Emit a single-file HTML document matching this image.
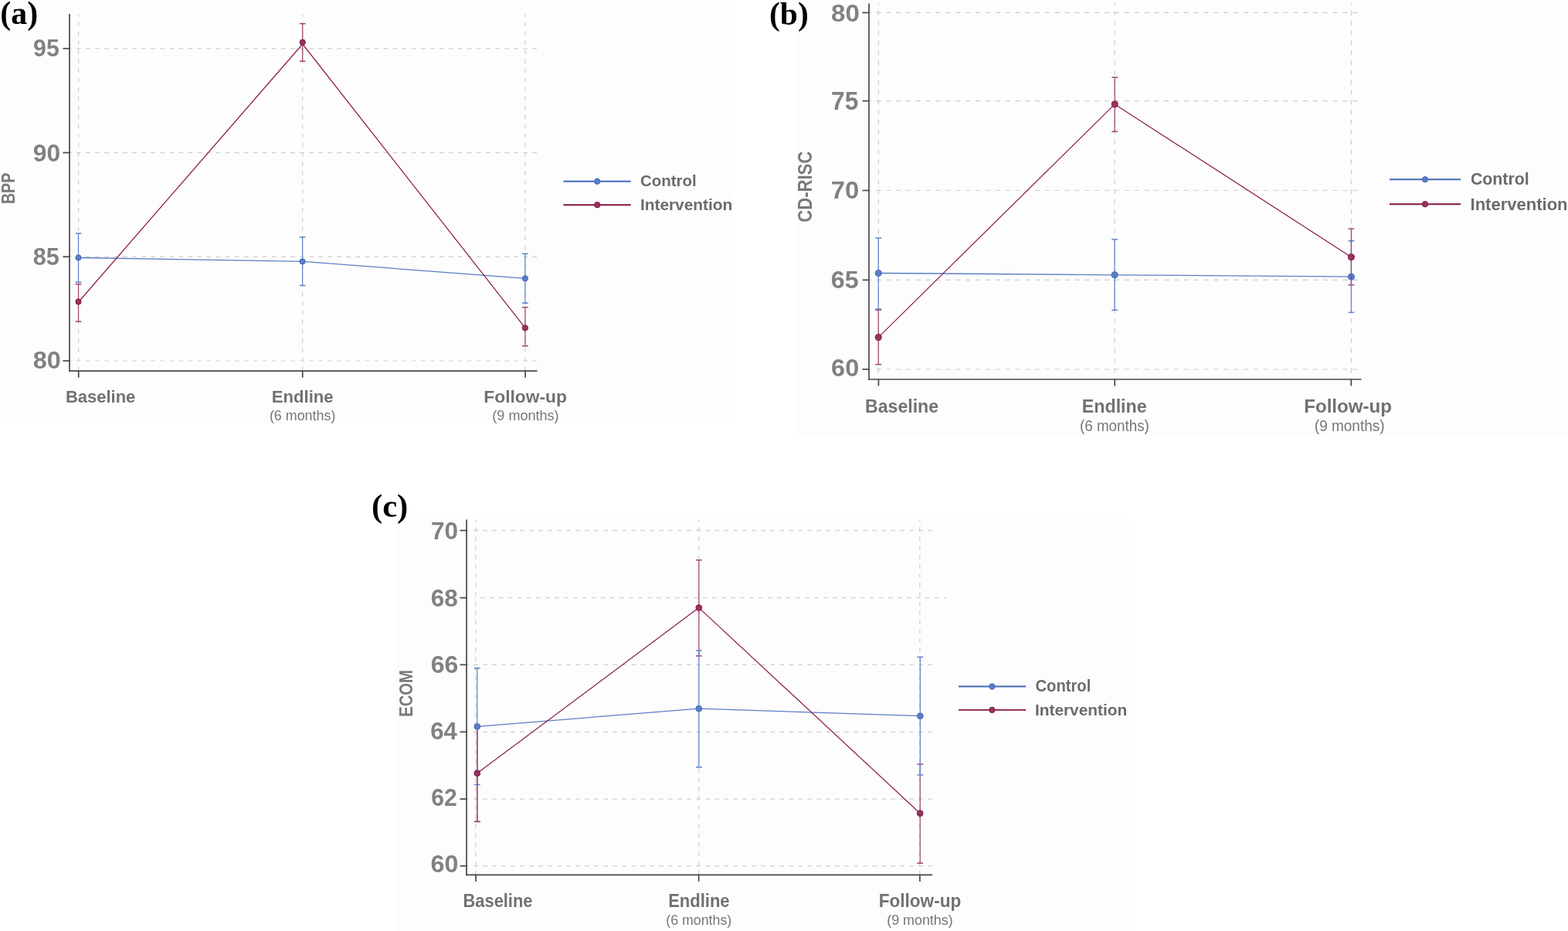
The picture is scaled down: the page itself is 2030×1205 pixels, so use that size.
<!DOCTYPE html>
<html><head><meta charset="utf-8"><title>Figure: BPP, CD-RISC and ECOM by group over time</title>
<style>html,body{margin:0;padding:0;background:#fff;overflow:hidden;}svg{display:block;}</style>
</head><body>
<svg width="2030" height="1205" viewBox="0 0 2030 1205">
<rect x="0" y="0" width="2030" height="1205" fill="#ffffff"/>
<rect x="0" y="0" width="950" height="548" fill="#fdfdfd"/>
<line x1="90" y1="62.8" x2="695.5" y2="62.8" stroke="#cecece" stroke-width="1.2" stroke-dasharray="5.6 6.45" stroke-dashoffset="3.1"/>
<line x1="90" y1="197.6" x2="695.5" y2="197.6" stroke="#cecece" stroke-width="1.2" stroke-dasharray="5.6 6.45" stroke-dashoffset="3.1"/>
<line x1="90" y1="332.3" x2="695.5" y2="332.3" stroke="#cecece" stroke-width="1.2" stroke-dasharray="5.6 6.45" stroke-dashoffset="3.1"/>
<line x1="90" y1="467.0" x2="695.5" y2="467.0" stroke="#cecece" stroke-width="1.2" stroke-dasharray="5.6 6.45" stroke-dashoffset="3.1"/>
<line x1="101.6" y1="18.7" x2="101.6" y2="480.2" stroke="#cecece" stroke-width="1.2" stroke-dasharray="5.6 6.45" stroke-dashoffset="2.4"/>
<line x1="391.7" y1="18.7" x2="391.7" y2="480.2" stroke="#cecece" stroke-width="1.2" stroke-dasharray="5.6 6.45" stroke-dashoffset="2.4"/>
<line x1="680.0" y1="18.7" x2="680.0" y2="480.2" stroke="#cecece" stroke-width="1.2" stroke-dasharray="5.6 6.45" stroke-dashoffset="2.4"/>
<line x1="90" y1="18" x2="90" y2="481.05" stroke="#474747" stroke-width="1.7"/>
<line x1="89.15" y1="480.2" x2="695.5" y2="480.2" stroke="#474747" stroke-width="1.7"/>
<line x1="81.5" y1="62.8" x2="90" y2="62.8" stroke="#474747" stroke-width="1.7"/>
<line x1="81.5" y1="197.6" x2="90" y2="197.6" stroke="#474747" stroke-width="1.7"/>
<line x1="81.5" y1="332.3" x2="90" y2="332.3" stroke="#474747" stroke-width="1.7"/>
<line x1="81.5" y1="467.0" x2="90" y2="467.0" stroke="#474747" stroke-width="1.7"/>
<line x1="101.7" y1="480.2" x2="101.7" y2="488.7" stroke="#474747" stroke-width="1.7"/>
<line x1="391.7" y1="480.2" x2="391.7" y2="488.7" stroke="#474747" stroke-width="1.7"/>
<line x1="680.1" y1="480.2" x2="680.1" y2="488.7" stroke="#474747" stroke-width="1.7"/>
<text x="43.08" y="72.83" font-size="30.56" font-weight="bold" font-family="'Liberation Sans', Arial, sans-serif" fill="#818181" textLength="33.72" lengthAdjust="spacingAndGlyphs">95</text>
<text x="42.77" y="208.66" font-size="31.41" font-weight="bold" font-family="'Liberation Sans', Arial, sans-serif" fill="#818181" textLength="35.38" lengthAdjust="spacingAndGlyphs">90</text>
<text x="42.68" y="342.93" font-size="30.81" font-weight="bold" font-family="'Liberation Sans', Arial, sans-serif" fill="#818181" textLength="34.15" lengthAdjust="spacingAndGlyphs">85</text>
<text x="42.65" y="476.55" font-size="30.77" font-weight="bold" font-family="'Liberation Sans', Arial, sans-serif" fill="#818181" textLength="36.19" lengthAdjust="spacingAndGlyphs">80</text>
<text x="84.88" y="520.8" font-size="22.82" font-weight="bold" font-family="'Liberation Sans', Arial, sans-serif" fill="#717171" textLength="90.46" lengthAdjust="spacingAndGlyphs">Baseline</text>
<text x="351.84" y="521.0" font-size="22.35" font-weight="bold" font-family="'Liberation Sans', Arial, sans-serif" fill="#717171" textLength="79.74" lengthAdjust="spacingAndGlyphs">Endline</text>
<text x="626.37" y="521.4" font-size="22.47" font-weight="bold" font-family="'Liberation Sans', Arial, sans-serif" fill="#717171" textLength="107.48" lengthAdjust="spacingAndGlyphs">Follow-up</text>
<text x="348.92" y="543.55" font-size="18.5" font-weight="normal" font-family="'Liberation Sans', Arial, sans-serif" fill="#767676" textLength="85.47" lengthAdjust="spacingAndGlyphs">(6 months)</text>
<text x="637.39" y="543.86" font-size="17.84" font-weight="normal" font-family="'Liberation Sans', Arial, sans-serif" fill="#767676" textLength="86.11" lengthAdjust="spacingAndGlyphs">(9 months)</text>
<text x="19.4" y="264.11" font-size="24.02" font-weight="bold" font-family="'Liberation Sans', Arial, sans-serif" fill="#7a7a7a" textLength="40.38" lengthAdjust="spacingAndGlyphs" transform="rotate(-90 19.4 264.11)">BPP</text>
<line x1="101.5" y1="302.1" x2="101.5" y2="365.2" stroke="#5e83ca" stroke-width="1.25"/>
<line x1="97.6" y1="302.1" x2="105.4" y2="302.1" stroke="#5e83ca" stroke-width="1.5"/>
<line x1="97.6" y1="365.2" x2="105.4" y2="365.2" stroke="#5e83ca" stroke-width="1.5"/>
<line x1="391.6" y1="307.0" x2="391.6" y2="369.5" stroke="#5e83ca" stroke-width="1.25"/>
<line x1="387.70000000000005" y1="307.0" x2="395.5" y2="307.0" stroke="#5e83ca" stroke-width="1.5"/>
<line x1="387.70000000000005" y1="369.5" x2="395.5" y2="369.5" stroke="#5e83ca" stroke-width="1.5"/>
<line x1="679.9" y1="328.4" x2="679.9" y2="392.3" stroke="#5e83ca" stroke-width="1.25"/>
<line x1="676.0" y1="328.4" x2="683.8" y2="328.4" stroke="#5e83ca" stroke-width="1.5"/>
<line x1="676.0" y1="392.3" x2="683.8" y2="392.3" stroke="#5e83ca" stroke-width="1.5"/>
<path d="M101.5 333.5 L391.6 338.4 L679.9 360.4" fill="none" stroke="#5b7fc6" stroke-width="1.3" stroke-linejoin="round"/>
<circle cx="101.5" cy="333.5" r="3.65" fill="#5a7ec6" stroke="#3e63b3" stroke-width="0.9"/>
<circle cx="391.6" cy="338.4" r="3.65" fill="#5a7ec6" stroke="#3e63b3" stroke-width="0.9"/>
<circle cx="679.9" cy="360.4" r="3.65" fill="#5a7ec6" stroke="#3e63b3" stroke-width="0.9"/>
<line x1="101.5" y1="367.8" x2="101.5" y2="416.2" stroke="#9c4670" stroke-width="1.25"/>
<line x1="97.6" y1="367.8" x2="105.4" y2="367.8" stroke="#9c4670" stroke-width="1.5"/>
<line x1="97.6" y1="416.2" x2="105.4" y2="416.2" stroke="#9c4670" stroke-width="1.5"/>
<line x1="391.7" y1="30.6" x2="391.7" y2="79.3" stroke="#9c4670" stroke-width="1.25"/>
<line x1="387.8" y1="30.6" x2="395.59999999999997" y2="30.6" stroke="#9c4670" stroke-width="1.5"/>
<line x1="387.8" y1="79.3" x2="395.59999999999997" y2="79.3" stroke="#9c4670" stroke-width="1.5"/>
<line x1="679.9" y1="397.7" x2="679.9" y2="447.8" stroke="#9c4670" stroke-width="1.25"/>
<line x1="676.0" y1="397.7" x2="683.8" y2="397.7" stroke="#9c4670" stroke-width="1.5"/>
<line x1="676.0" y1="447.8" x2="683.8" y2="447.8" stroke="#9c4670" stroke-width="1.5"/>
<path d="M101.5 391.0 L391.7 57.0 L679.9 424.4" fill="none" stroke="#8b1e4d" stroke-width="1.25" stroke-linejoin="round"/>
<circle cx="101.5" cy="390.5" r="3.65" fill="#94345d" stroke="#860d3f" stroke-width="0.9"/>
<circle cx="391.7" cy="54.7" r="3.65" fill="#94345d" stroke="#860d3f" stroke-width="0.9"/>
<circle cx="679.9" cy="424.4" r="3.65" fill="#94345d" stroke="#860d3f" stroke-width="0.9"/>
<line x1="729.3" y1="234.8" x2="816.7" y2="234.8" stroke="#4469b8" stroke-width="1.9"/>
<circle cx="773.2" cy="234.8" r="3.7" fill="#5a7ec6" stroke="#3e63b3" stroke-width="0.9"/>
<line x1="729.3" y1="265.2" x2="816.7" y2="265.2" stroke="#86143f" stroke-width="1.9"/>
<circle cx="773.2" cy="265.2" r="3.7" fill="#94345d" stroke="#860d3f" stroke-width="0.9"/>
<text x="829.0" y="241.4" font-size="21.03" font-weight="bold" font-family="'Liberation Sans', Arial, sans-serif" fill="#6b6b6b" textLength="72.57" lengthAdjust="spacingAndGlyphs">Control</text>
<text x="828.95" y="272.2" font-size="20.36" font-weight="bold" font-family="'Liberation Sans', Arial, sans-serif" fill="#6b6b6b" textLength="119.29" lengthAdjust="spacingAndGlyphs">Intervention</text>
<text x="0.36" y="31.2" font-size="42.59" font-weight="bold" font-family="'Liberation Serif', 'Times New Roman', serif" fill="#000000" textLength="48.9" lengthAdjust="spacingAndGlyphs">(a)</text>
<rect x="1031" y="0" width="999" height="564" fill="#fdfdfd"/>
<line x1="1125" y1="16.4" x2="1763" y2="16.4" stroke="#cecece" stroke-width="1.2" stroke-dasharray="6.2 6.65" stroke-dashoffset="3.45"/>
<line x1="1125" y1="130.6" x2="1763" y2="130.6" stroke="#cecece" stroke-width="1.2" stroke-dasharray="6.2 6.65" stroke-dashoffset="3.45"/>
<line x1="1125" y1="246.5" x2="1763" y2="246.5" stroke="#cecece" stroke-width="1.2" stroke-dasharray="6.2 6.65" stroke-dashoffset="3.45"/>
<line x1="1125" y1="362.4" x2="1763" y2="362.4" stroke="#cecece" stroke-width="1.2" stroke-dasharray="6.2 6.65" stroke-dashoffset="3.45"/>
<line x1="1125" y1="478.0" x2="1763" y2="478.0" stroke="#cecece" stroke-width="1.2" stroke-dasharray="6.2 6.65" stroke-dashoffset="3.45"/>
<line x1="1137.4" y1="4.5" x2="1137.4" y2="491" stroke="#cecece" stroke-width="1.2" stroke-dasharray="6.2 6.65" stroke-dashoffset="3.65"/>
<line x1="1443.1" y1="4.5" x2="1443.1" y2="491" stroke="#cecece" stroke-width="1.2" stroke-dasharray="6.2 6.65" stroke-dashoffset="3.65"/>
<line x1="1749.4" y1="4.5" x2="1749.4" y2="491" stroke="#cecece" stroke-width="1.2" stroke-dasharray="6.2 6.65" stroke-dashoffset="3.65"/>
<line x1="1125" y1="4.5" x2="1125" y2="491.85" stroke="#474747" stroke-width="1.7"/>
<line x1="1124.15" y1="491" x2="1762.5" y2="491" stroke="#474747" stroke-width="1.7"/>
<line x1="1116.5" y1="16.4" x2="1125" y2="16.4" stroke="#474747" stroke-width="1.7"/>
<line x1="1116.5" y1="130.6" x2="1125" y2="130.6" stroke="#474747" stroke-width="1.7"/>
<line x1="1116.5" y1="246.5" x2="1125" y2="246.5" stroke="#474747" stroke-width="1.7"/>
<line x1="1116.5" y1="362.4" x2="1125" y2="362.4" stroke="#474747" stroke-width="1.7"/>
<line x1="1116.5" y1="478.0" x2="1125" y2="478.0" stroke="#474747" stroke-width="1.7"/>
<line x1="1137.4" y1="491" x2="1137.4" y2="499.5" stroke="#474747" stroke-width="1.7"/>
<line x1="1443.2" y1="491" x2="1443.2" y2="499.5" stroke="#474747" stroke-width="1.7"/>
<line x1="1749.3" y1="491" x2="1749.3" y2="499.5" stroke="#474747" stroke-width="1.7"/>
<text x="1076.0" y="27.9" font-size="30.71" font-weight="bold" font-family="'Liberation Sans', Arial, sans-serif" fill="#818181" textLength="36.77" lengthAdjust="spacingAndGlyphs">80</text>
<text x="1076.04" y="141.83" font-size="32.3" font-weight="bold" font-family="'Liberation Sans', Arial, sans-serif" fill="#818181" textLength="35.3" lengthAdjust="spacingAndGlyphs">75</text>
<text x="1075.85" y="257.12" font-size="31.17" font-weight="bold" font-family="'Liberation Sans', Arial, sans-serif" fill="#818181" textLength="36.48" lengthAdjust="spacingAndGlyphs">70</text>
<text x="1075.86" y="372.95" font-size="31.69" font-weight="bold" font-family="'Liberation Sans', Arial, sans-serif" fill="#818181" textLength="35.82" lengthAdjust="spacingAndGlyphs">65</text>
<text x="1076.13" y="487.48" font-size="31.83" font-weight="bold" font-family="'Liberation Sans', Arial, sans-serif" fill="#818181" textLength="36.04" lengthAdjust="spacingAndGlyphs">60</text>
<text x="1120.07" y="534.0" font-size="24.03" font-weight="bold" font-family="'Liberation Sans', Arial, sans-serif" fill="#717171" textLength="95.01" lengthAdjust="spacingAndGlyphs">Baseline</text>
<text x="1400.83" y="534.0" font-size="23.96" font-weight="bold" font-family="'Liberation Sans', Arial, sans-serif" fill="#717171" textLength="83.76" lengthAdjust="spacingAndGlyphs">Endline</text>
<text x="1688.3" y="534.0" font-size="23.54" font-weight="bold" font-family="'Liberation Sans', Arial, sans-serif" fill="#717171" textLength="113.53" lengthAdjust="spacingAndGlyphs">Follow-up</text>
<text x="1397.98" y="558.03" font-size="20.0" font-weight="normal" font-family="'Liberation Sans', Arial, sans-serif" fill="#767676" textLength="89.9" lengthAdjust="spacingAndGlyphs">(6 months)</text>
<text x="1701.82" y="558.33" font-size="19.36" font-weight="normal" font-family="'Liberation Sans', Arial, sans-serif" fill="#767676" textLength="90.77" lengthAdjust="spacingAndGlyphs">(9 months)</text>
<text x="1050.8" y="287.67" font-size="26.59" font-weight="bold" font-family="'Liberation Sans', Arial, sans-serif" fill="#7a7a7a" textLength="91.88" lengthAdjust="spacingAndGlyphs" transform="rotate(-90 1050.8 287.67)">CD-RISC</text>
<line x1="1137.2" y1="308.0" x2="1137.2" y2="400.0" stroke="#5e83ca" stroke-width="1.25"/>
<line x1="1133.3" y1="308.0" x2="1141.1000000000001" y2="308.0" stroke="#5e83ca" stroke-width="1.5"/>
<line x1="1133.3" y1="400.0" x2="1141.1000000000001" y2="400.0" stroke="#5e83ca" stroke-width="1.5"/>
<line x1="1443.1" y1="309.9" x2="1443.1" y2="401.4" stroke="#5e83ca" stroke-width="1.25"/>
<line x1="1439.1999999999998" y1="309.9" x2="1447.0" y2="309.9" stroke="#5e83ca" stroke-width="1.5"/>
<line x1="1439.1999999999998" y1="401.4" x2="1447.0" y2="401.4" stroke="#5e83ca" stroke-width="1.5"/>
<line x1="1749.4" y1="311.8" x2="1749.4" y2="404.4" stroke="#5e83ca" stroke-width="1.25"/>
<line x1="1745.5" y1="311.8" x2="1753.3000000000002" y2="311.8" stroke="#5e83ca" stroke-width="1.5"/>
<line x1="1745.5" y1="404.4" x2="1753.3000000000002" y2="404.4" stroke="#5e83ca" stroke-width="1.5"/>
<path d="M1137.2 353.5 L1443.1 355.8 L1749.4 358.2" fill="none" stroke="#5b7fc6" stroke-width="1.3" stroke-linejoin="round"/>
<circle cx="1137.2" cy="353.5" r="4.05" fill="#5a7ec6" stroke="#3e63b3" stroke-width="0.9"/>
<circle cx="1443.1" cy="355.8" r="4.05" fill="#5a7ec6" stroke="#3e63b3" stroke-width="0.9"/>
<circle cx="1749.4" cy="358.2" r="4.05" fill="#5a7ec6" stroke="#3e63b3" stroke-width="0.9"/>
<line x1="1137.2" y1="401.1" x2="1137.2" y2="471.7" stroke="#9c4670" stroke-width="1.25"/>
<line x1="1133.3" y1="401.1" x2="1141.1000000000001" y2="401.1" stroke="#9c4670" stroke-width="1.5"/>
<line x1="1133.3" y1="471.7" x2="1141.1000000000001" y2="471.7" stroke="#9c4670" stroke-width="1.5"/>
<line x1="1443.2" y1="100.1" x2="1443.2" y2="170.3" stroke="#9c4670" stroke-width="1.25"/>
<line x1="1439.3" y1="100.1" x2="1447.1000000000001" y2="100.1" stroke="#9c4670" stroke-width="1.5"/>
<line x1="1439.3" y1="170.3" x2="1447.1000000000001" y2="170.3" stroke="#9c4670" stroke-width="1.5"/>
<line x1="1749.4" y1="296.1" x2="1749.4" y2="368.8" stroke="#9c4670" stroke-width="1.25"/>
<line x1="1745.5" y1="296.1" x2="1753.3000000000002" y2="296.1" stroke="#9c4670" stroke-width="1.5"/>
<line x1="1745.5" y1="368.8" x2="1753.3000000000002" y2="368.8" stroke="#9c4670" stroke-width="1.5"/>
<path d="M1137.2 436.6 L1443.2 134.9 L1749.4 332.7" fill="none" stroke="#8b1e4d" stroke-width="1.25" stroke-linejoin="round"/>
<circle cx="1137.2" cy="436.6" r="4.05" fill="#94345d" stroke="#860d3f" stroke-width="0.9"/>
<circle cx="1443.2" cy="134.9" r="4.05" fill="#94345d" stroke="#860d3f" stroke-width="0.9"/>
<circle cx="1749.4" cy="332.7" r="4.05" fill="#94345d" stroke="#860d3f" stroke-width="0.9"/>
<line x1="1799" y1="232.3" x2="1891" y2="232.3" stroke="#4469b8" stroke-width="1.9"/>
<circle cx="1845" cy="232.3" r="3.7" fill="#5a7ec6" stroke="#3e63b3" stroke-width="0.9"/>
<line x1="1799" y1="264.2" x2="1891" y2="264.2" stroke="#86143f" stroke-width="1.9"/>
<circle cx="1845" cy="264.2" r="3.7" fill="#94345d" stroke="#860d3f" stroke-width="0.9"/>
<text x="1904.0" y="238.8" font-size="22.61" font-weight="bold" font-family="'Liberation Sans', Arial, sans-serif" fill="#6b6b6b" textLength="75.65" lengthAdjust="spacingAndGlyphs">Control</text>
<text x="1903.55" y="272.0" font-size="21.39" font-weight="bold" font-family="'Liberation Sans', Arial, sans-serif" fill="#6b6b6b" textLength="126.0" lengthAdjust="spacingAndGlyphs">Intervention</text>
<text x="996.0" y="31.66" font-size="42.95" font-weight="bold" font-family="'Liberation Serif', 'Times New Roman', serif" fill="#000000" textLength="50.74" lengthAdjust="spacingAndGlyphs">(b)</text>
<rect x="511" y="671" width="951" height="534" fill="#fdfdfd"/>
<line x1="604" y1="686.6" x2="1207" y2="686.6" stroke="#cecece" stroke-width="1.2" stroke-dasharray="5.6 6.4" stroke-dashoffset="2.7"/>
<line x1="622" y1="773.7" x2="1225.3" y2="773.7" stroke="#cecece" stroke-width="1.2" stroke-dasharray="5.6 6.4" stroke-dashoffset="0"/>
<line x1="604" y1="860.4" x2="1207" y2="860.4" stroke="#cecece" stroke-width="1.2" stroke-dasharray="5.6 6.4" stroke-dashoffset="2.7"/>
<line x1="604" y1="947.3" x2="1207" y2="947.3" stroke="#cecece" stroke-width="1.2" stroke-dasharray="5.6 6.4" stroke-dashoffset="2.7"/>
<line x1="604" y1="1034.2" x2="1207" y2="1034.2" stroke="#cecece" stroke-width="1.2" stroke-dasharray="5.6 6.4" stroke-dashoffset="2.7"/>
<line x1="604" y1="1120.8" x2="1207" y2="1120.8" stroke="#cecece" stroke-width="1.2" stroke-dasharray="5.6 6.4" stroke-dashoffset="2.7"/>
<line x1="615.8" y1="673.6" x2="615.8" y2="1132.4" stroke="#cecece" stroke-width="1.2" stroke-dasharray="5.6 6.4" stroke-dashoffset="3.1"/>
<line x1="904.6" y1="673.6" x2="904.6" y2="1132.4" stroke="#cecece" stroke-width="1.2" stroke-dasharray="5.6 6.4" stroke-dashoffset="3.1"/>
<line x1="1190.8" y1="673.6" x2="1190.8" y2="1132.4" stroke="#cecece" stroke-width="1.2" stroke-dasharray="5.6 6.4" stroke-dashoffset="3.1"/>
<line x1="604" y1="672.4" x2="604" y2="1133.25" stroke="#474747" stroke-width="1.7"/>
<line x1="603.15" y1="1132.4" x2="1207" y2="1132.4" stroke="#474747" stroke-width="1.7"/>
<line x1="595.5" y1="686.6" x2="604" y2="686.6" stroke="#474747" stroke-width="1.7"/>
<line x1="595.5" y1="773.7" x2="604" y2="773.7" stroke="#474747" stroke-width="1.7"/>
<line x1="595.5" y1="860.4" x2="604" y2="860.4" stroke="#474747" stroke-width="1.7"/>
<line x1="595.5" y1="947.3" x2="604" y2="947.3" stroke="#474747" stroke-width="1.7"/>
<line x1="595.5" y1="1034.2" x2="604" y2="1034.2" stroke="#474747" stroke-width="1.7"/>
<line x1="595.5" y1="1120.8" x2="604" y2="1120.8" stroke="#474747" stroke-width="1.7"/>
<line x1="616.0" y1="1132.4" x2="616.0" y2="1140.9" stroke="#474747" stroke-width="1.7"/>
<line x1="904.6" y1="1132.4" x2="904.6" y2="1140.9" stroke="#474747" stroke-width="1.7"/>
<line x1="1190.9" y1="1132.4" x2="1190.9" y2="1140.9" stroke="#474747" stroke-width="1.7"/>
<text x="557.96" y="697.56" font-size="30.66" font-weight="bold" font-family="'Liberation Sans', Arial, sans-serif" fill="#818181" textLength="35.09" lengthAdjust="spacingAndGlyphs">70</text>
<text x="557.67" y="784.55" font-size="31.46" font-weight="bold" font-family="'Liberation Sans', Arial, sans-serif" fill="#818181" textLength="35.13" lengthAdjust="spacingAndGlyphs">68</text>
<text x="557.67" y="870.71" font-size="30.92" font-weight="bold" font-family="'Liberation Sans', Arial, sans-serif" fill="#818181" textLength="35.55" lengthAdjust="spacingAndGlyphs">66</text>
<text x="557.19" y="956.97" font-size="31.37" font-weight="bold" font-family="'Liberation Sans', Arial, sans-serif" fill="#818181" textLength="34.62" lengthAdjust="spacingAndGlyphs">64</text>
<text x="558.31" y="1042.57" font-size="31.12" font-weight="bold" font-family="'Liberation Sans', Arial, sans-serif" fill="#818181" textLength="33.49" lengthAdjust="spacingAndGlyphs">62</text>
<text x="557.57" y="1129.22" font-size="31.4" font-weight="bold" font-family="'Liberation Sans', Arial, sans-serif" fill="#818181" textLength="35.84" lengthAdjust="spacingAndGlyphs">60</text>
<text x="599.61" y="1174.0" font-size="23.69" font-weight="bold" font-family="'Liberation Sans', Arial, sans-serif" fill="#717171" textLength="89.8" lengthAdjust="spacingAndGlyphs">Baseline</text>
<text x="865.15" y="1173.8" font-size="23.26" font-weight="bold" font-family="'Liberation Sans', Arial, sans-serif" fill="#717171" textLength="79.46" lengthAdjust="spacingAndGlyphs">Endline</text>
<text x="1137.68" y="1174.0" font-size="23.68" font-weight="bold" font-family="'Liberation Sans', Arial, sans-serif" fill="#717171" textLength="106.56" lengthAdjust="spacingAndGlyphs">Follow-up</text>
<text x="862.35" y="1196.53" font-size="18.3" font-weight="normal" font-family="'Liberation Sans', Arial, sans-serif" fill="#767676" textLength="84.85" lengthAdjust="spacingAndGlyphs">(6 months)</text>
<text x="1148.27" y="1196.51" font-size="19.22" font-weight="normal" font-family="'Liberation Sans', Arial, sans-serif" fill="#767676" textLength="85.33" lengthAdjust="spacingAndGlyphs">(9 months)</text>
<text x="534.0" y="927.86" font-size="23.35" font-weight="bold" font-family="'Liberation Sans', Arial, sans-serif" fill="#7a7a7a" textLength="60.69" lengthAdjust="spacingAndGlyphs" transform="rotate(-90 534.0 927.86)">ECOM</text>
<line x1="617.8" y1="941.0" x2="617.8" y2="1063.4" stroke="#9c4670" stroke-width="1.25"/>
<line x1="613.9" y1="941.0" x2="621.6999999999999" y2="941.0" stroke="#9c4670" stroke-width="1.5"/>
<line x1="613.9" y1="1063.4" x2="621.6999999999999" y2="1063.4" stroke="#9c4670" stroke-width="1.5"/>
<line x1="904.8" y1="724.9" x2="904.8" y2="849.0" stroke="#9c4670" stroke-width="1.25"/>
<line x1="900.9" y1="724.9" x2="908.6999999999999" y2="724.9" stroke="#9c4670" stroke-width="1.5"/>
<line x1="900.9" y1="849.0" x2="908.6999999999999" y2="849.0" stroke="#9c4670" stroke-width="1.5"/>
<line x1="1191.2" y1="989.1" x2="1191.2" y2="1117.2" stroke="#9c4670" stroke-width="1.25"/>
<line x1="1187.3" y1="989.1" x2="1195.1000000000001" y2="989.1" stroke="#9c4670" stroke-width="1.5"/>
<line x1="1187.3" y1="1117.2" x2="1195.1000000000001" y2="1117.2" stroke="#9c4670" stroke-width="1.5"/>
<line x1="617.8" y1="864.8" x2="617.8" y2="1015.6" stroke="#5e83ca" stroke-width="1.25"/>
<line x1="613.9" y1="864.8" x2="621.6999999999999" y2="864.8" stroke="#5e83ca" stroke-width="1.5"/>
<line x1="613.9" y1="1015.6" x2="621.6999999999999" y2="1015.6" stroke="#5e83ca" stroke-width="1.5"/>
<line x1="904.8" y1="842.0" x2="904.8" y2="993.0" stroke="#5e83ca" stroke-width="1.25"/>
<line x1="900.9" y1="842.0" x2="908.6999999999999" y2="842.0" stroke="#5e83ca" stroke-width="1.5"/>
<line x1="900.9" y1="993.0" x2="908.6999999999999" y2="993.0" stroke="#5e83ca" stroke-width="1.5"/>
<line x1="1191.3" y1="850.4" x2="1191.3" y2="1003.0" stroke="#5e83ca" stroke-width="1.25"/>
<line x1="1187.3999999999999" y1="850.4" x2="1195.2" y2="850.4" stroke="#5e83ca" stroke-width="1.5"/>
<line x1="1187.3999999999999" y1="1003.0" x2="1195.2" y2="1003.0" stroke="#5e83ca" stroke-width="1.5"/>
<line x1="617.8" y1="941.0" x2="617.8" y2="1063.4" stroke="#9c4670" stroke-width="1.25"/>
<line x1="613.9" y1="941.0" x2="621.6999999999999" y2="941.0" stroke="#9c4670" stroke-width="1.5"/>
<line x1="613.9" y1="1063.4" x2="621.6999999999999" y2="1063.4" stroke="#9c4670" stroke-width="1.5"/>
<path d="M617.8 940.3 L904.8 917.2 L1191.3 926.7" fill="none" stroke="#5b7fc6" stroke-width="1.3" stroke-linejoin="round"/>
<path d="M617.8 1000.8 L904.8 786.6 L1191.2 1052.7" fill="none" stroke="#8b1e4d" stroke-width="1.25" stroke-linejoin="round"/>
<circle cx="617.8" cy="1000.8" r="3.9" fill="#94345d" stroke="#860d3f" stroke-width="0.9"/>
<circle cx="904.8" cy="786.6" r="3.9" fill="#94345d" stroke="#860d3f" stroke-width="0.9"/>
<circle cx="1191.2" cy="1052.7" r="3.9" fill="#94345d" stroke="#860d3f" stroke-width="0.9"/>
<circle cx="617.8" cy="940.3" r="3.9" fill="#5a7ec6" stroke="#3e63b3" stroke-width="0.9"/>
<circle cx="904.8" cy="917.2" r="3.9" fill="#5a7ec6" stroke="#3e63b3" stroke-width="0.9"/>
<circle cx="1191.3" cy="926.7" r="3.9" fill="#5a7ec6" stroke="#3e63b3" stroke-width="0.9"/>
<line x1="1241" y1="888.5" x2="1328.2" y2="888.5" stroke="#4469b8" stroke-width="1.9"/>
<circle cx="1284.4" cy="888.5" r="3.7" fill="#5a7ec6" stroke="#3e63b3" stroke-width="0.9"/>
<line x1="1241" y1="918.9" x2="1328.2" y2="918.9" stroke="#86143f" stroke-width="1.9"/>
<circle cx="1284.4" cy="918.9" r="3.7" fill="#94345d" stroke="#860d3f" stroke-width="0.9"/>
<text x="1340.52" y="895.0" font-size="21.55" font-weight="bold" font-family="'Liberation Sans', Arial, sans-serif" fill="#6b6b6b" textLength="71.79" lengthAdjust="spacingAndGlyphs">Control</text>
<text x="1340.0" y="926.3" font-size="20.83" font-weight="bold" font-family="'Liberation Sans', Arial, sans-serif" fill="#6b6b6b" textLength="119.12" lengthAdjust="spacingAndGlyphs">Intervention</text>
<text x="481.0" y="669.35" font-size="42.86" font-weight="bold" font-family="'Liberation Serif', 'Times New Roman', serif" fill="#000000" textLength="47.33" lengthAdjust="spacingAndGlyphs">(c)</text>
</svg>
</body></html>
